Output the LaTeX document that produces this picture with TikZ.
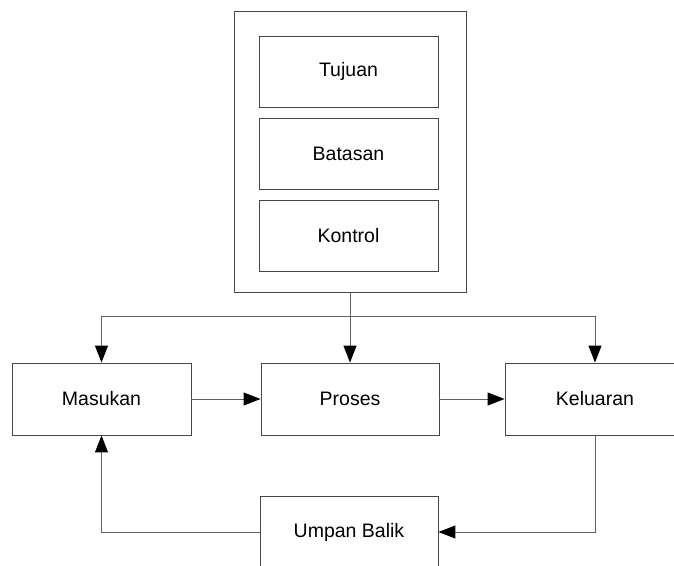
\documentclass[tikz,border=0pt]{standalone}
\usepackage{fontspec}
\setmainfont{Liberation Sans}
\usetikzlibrary{arrows.meta}
\begin{document}
\begin{tikzpicture}[x=1pt,y=-1pt,
  box/.style={draw=black!72, line width=0.9pt, minimum width=179pt,
    minimum height=72pt, inner sep=0pt, font=\fontsize{19.5}{23}\selectfont},
  link/.style={draw=black!62, line width=1pt},
  tip/.style={-{Triangle[length=17pt,width=13pt,color=black]}},
  tipboth/.style={{Triangle[length=17pt,width=13pt,color=black]}-{Triangle[length=17pt,width=13pt,color=black]}}]
  \useasboundingbox (0,0) rectangle (674,565);
  \clip (0,0) rectangle (674,565);

  % system block with its three parts
  \node[box, minimum width=232pt, minimum height=281pt] (sistem) at (350,151.5) {};
  \node[box, minimum height=71pt] (tujuan)  at (348.5,71.5)  {Tujuan};
  \node[box, minimum height=71pt] (batasan) at (348.5,153.5) {Batasan};
  \node[box, minimum height=71pt] (kontrol) at (348.5,235.5) {Kontrol};

  % main flow
  \node[box] (masukan)  at (101.5,399) {Masukan};
  \node[box, minimum width=178pt] (proses) at (350,399) {Proses};
  \node[box, minimum width=180pt] (keluaran) at (595,399) {Keluaran};
  \node[box, minimum width=178pt] (umpan) at (349,532) {Umpan Balik};

  \coordinate (cabang) at (350,316);

  % control lines from the system block
  \draw[link, tip] (sistem.south) -- (proses.north);
  \draw[link, tipboth] (masukan.north) -- (masukan.north |- cabang)
    -- (keluaran.north |- cabang) -- (keluaran.north);

  % flow arrows
  \draw[link, tip] (masukan.east) -- (proses.west);
  \draw[link, tip] (proses.east) -- (keluaran.west);

  % feedback loop
  \draw[link, tip] (keluaran.south) |- (umpan.east);
  \draw[link, tip] (umpan.west) -| (masukan.south);
\end{tikzpicture}
\end{document}
